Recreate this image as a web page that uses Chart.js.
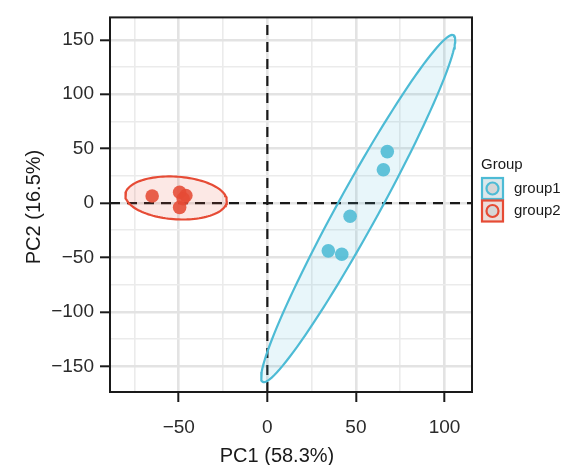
<!DOCTYPE html>
<html lang="en">
<head>
<meta charset="UTF-8">
<title>PCA score plot</title>
<script src="https://cdn.jsdelivr.net/npm/chart.js@4.4.1/dist/chart.umd.min.js"></script>
<style>
  body { margin: 0; background: #fff; }
</style>
</head>
<body>
<canvas id="pca" width="572" height="465"></canvas>
<script>
// sample scores (PC1, PC2)
const group1X = [67.7, 65.5, 46.7, 34.4, 42.0];
const group1Y = [47.3, 30.6, -12.1, -43.9, -47.0];
const group2X = [-65.0, -49.5, -46.0, -49.5, -47.5];
const group2Y = [6.5, 10.0, 7.0, -4.0, 4.0];

const groupNames = ['group1', 'group2'];
const groupColors = ['#4DBBD5', '#E64B35'];

const xTicks = [-50, 0, 50, 100];
const xMinor = [-75, -25, 25, 75];
const yTicks = [-150, -100, -50, 0, 50, 100, 150];
const yMinor = [-125, -75, -25, 25, 75, 125];
const xRange = [-88.8, 115.5];
const yRange = [-173.6, 170.6];

const xTitle = 'PC1 (58.3%)';
const yTitle = 'PC2 (16.5%)';
const legendTitle = 'Group';

// qf(0.95, 2, n - 1) for n = 5, like stat_ellipse(type = "t")
const fQuantile = 6.9443;

function rgba(hex, a) {
    const n = parseInt(hex.slice(1), 16);
    return `rgba(${n >> 16}, ${(n >> 8) & 255}, ${n & 255}, ${a})`;
}

function toPoints(xs, ys) {
    return xs.map((x, i) => ({ x: x, y: ys[i] }));
}

// confidence ellipse from the sample covariance
function ellipse(xs, ys, steps) {
    const n = xs.length;
    const mx = xs.reduce((a, b) => a + b, 0) / n;
    const my = ys.reduce((a, b) => a + b, 0) / n;
    let sxx = 0, syy = 0, sxy = 0;
    for (let i = 0; i < n; i++) {
        sxx += (xs[i] - mx) ** 2;
        syy += (ys[i] - my) ** 2;
        sxy += (xs[i] - mx) * (ys[i] - my);
    }
    sxx /= n - 1; syy /= n - 1; sxy /= n - 1;
    const r = Math.sqrt(2 * fQuantile);
    const l11 = Math.sqrt(sxx);
    const l21 = sxy / l11;
    const l22 = Math.sqrt(syy - l21 * l21);
    const pts = [];
    for (let i = 0; i <= steps; i++) {
        const t = 2 * Math.PI * i / steps;
        const c = Math.cos(t), s = Math.sin(t);
        pts.push({ x: mx + r * l11 * c, y: my + r * (l21 * c + l22 * s) });
    }
    return pts;
}

const isMajor = (list, v) => list.includes(v);

const dashedZero = {
    id: 'dashedZero',
    beforeDatasetsDraw(chart) {
        const { ctx, chartArea: a, scales } = chart;
        const x0 = scales.x.getPixelForValue(0);
        const y0 = scales.y.getPixelForValue(0);
        ctx.save();
        ctx.strokeStyle = '#1a1a1a';
        ctx.lineWidth = 2.2;
        ctx.setLineDash([10, 7]);
        ctx.beginPath();
        ctx.moveTo(x0, a.bottom); ctx.lineTo(x0, a.top);
        ctx.moveTo(a.left, y0); ctx.lineTo(a.right, y0);
        ctx.stroke();
        ctx.restore();
    }
};

const frame = {
    id: 'frame',
    afterDraw(chart) {
        const { ctx, chartArea: a } = chart;
        ctx.save();
        ctx.strokeStyle = '#1a1a1a';
        ctx.lineWidth = 2;
        ctx.strokeRect(a.left, a.top, a.right - a.left, a.bottom - a.top);

        // axis titles
        ctx.fillStyle = '#1a1a1a';
        ctx.font = '20px "Liberation Sans", Arial, sans-serif';
        ctx.textAlign = 'center';
        ctx.textBaseline = 'middle';
        ctx.fillText(xTitle, 277, 456);
        ctx.translate(34, 207);
        ctx.rotate(-Math.PI / 2);
        ctx.fillText(yTitle, 0, 0);
        ctx.restore();

        // legend
        ctx.save();
        ctx.font = '15px "Liberation Sans", Arial, sans-serif';
        ctx.fillStyle = '#1a1a1a';
        ctx.textBaseline = 'middle';
        ctx.fillText(legendTitle, 481, 165);
        groupNames.forEach((name, i) => {
            const bx = 482, by = 178 + i * 22.5;
            ctx.fillStyle = '#EEEEEE';
            ctx.fillRect(bx, by, 21, 21);
            ctx.fillStyle = rgba(groupColors[i], 0.1);
            ctx.fillRect(bx, by, 21, 21);
            ctx.strokeStyle = groupColors[i];
            ctx.lineWidth = 2.2;
            ctx.strokeRect(bx, by, 21, 21);
            ctx.beginPath();
            ctx.arc(bx + 10.5, by + 10.5, 6, 0, 2 * Math.PI);
            ctx.fillStyle = '#D6D6D6';
            ctx.fill();
            ctx.stroke();
            ctx.fillStyle = '#1a1a1a';
            ctx.fillText(name, 514, by + 10.5);
        });
        ctx.restore();
    }
};

const groupsX = [group1X, group2X];
const groupsY = [group1Y, group2Y];

const datasets = [];
groupNames.forEach((name, i) => {
    datasets.push({
        type: 'line',
        label: name + ' ellipse',
        data: ellipse(groupsX[i], groupsY[i], 120),
        borderColor: groupColors[i],
        borderWidth: 2.2,
        backgroundColor: rgba(groupColors[i], 0.13),
        fill: 'shape',
        pointRadius: 0,
        tension: 0,
        order: 2
    });
});
groupNames.forEach((name, i) => {
    datasets.push({
        label: name,
        data: toPoints(groupsX[i], groupsY[i]),
        backgroundColor: rgba(groupColors[i], 0.88),
        borderWidth: 0,
        pointRadius: 6.8,
        order: 1
    });
});

function axis(range, major, minor, fitKey, fitSize) {
    return {
        type: 'linear',
        min: range[0],
        max: range[1],
        afterBuildTicks(scale) {
            scale.ticks = major.concat(minor).sort((a, b) => a - b).map(v => ({ value: v }));
        },
        afterFit(scale) { scale[fitKey] = fitSize; },
        grid: {
            color: ctx => isMajor(major, ctx.tick && ctx.tick.value) ? '#E3E3E3' : '#EBEBEB',
            lineWidth: ctx => isMajor(major, ctx.tick && ctx.tick.value) ? 2.6 : 1.6,
            tickColor: ctx => isMajor(major, ctx.tick && ctx.tick.value) ? '#1a1a1a' : 'rgba(0,0,0,0)',
            tickWidth: 2,
            tickLength: 10
        },
        border: { display: false },
        ticks: {
            autoSkip: false,
            maxRotation: 0,
            padding: fitKey === 'width' ? 6 : 14,
            color: '#2b2b2b',
            font: { size: 19, family: '"Liberation Sans", Arial, sans-serif' },
            callback: v => isMajor(major, v) ? (v < 0 ? '\u2212' + Math.abs(v) : String(v)) : ''
        }
    };
}

new Chart(document.getElementById('pca'), {
    type: 'scatter',
    data: { datasets: datasets },
    options: {
        responsive: false,
        animation: false,
        layout: { padding: { top: 14, right: 100, left: 0, bottom: 0 } },
        plugins: {
            legend: { display: false },
            tooltip: { enabled: false }
        },
        scales: {
            x: axis(xRange, xTicks, xMinor, 'height', 73),
            y: axis(yRange, yTicks, yMinor, 'width', 110)
        }
    },
    plugins: [dashedZero, frame]
});
</script>
</body>
</html>
